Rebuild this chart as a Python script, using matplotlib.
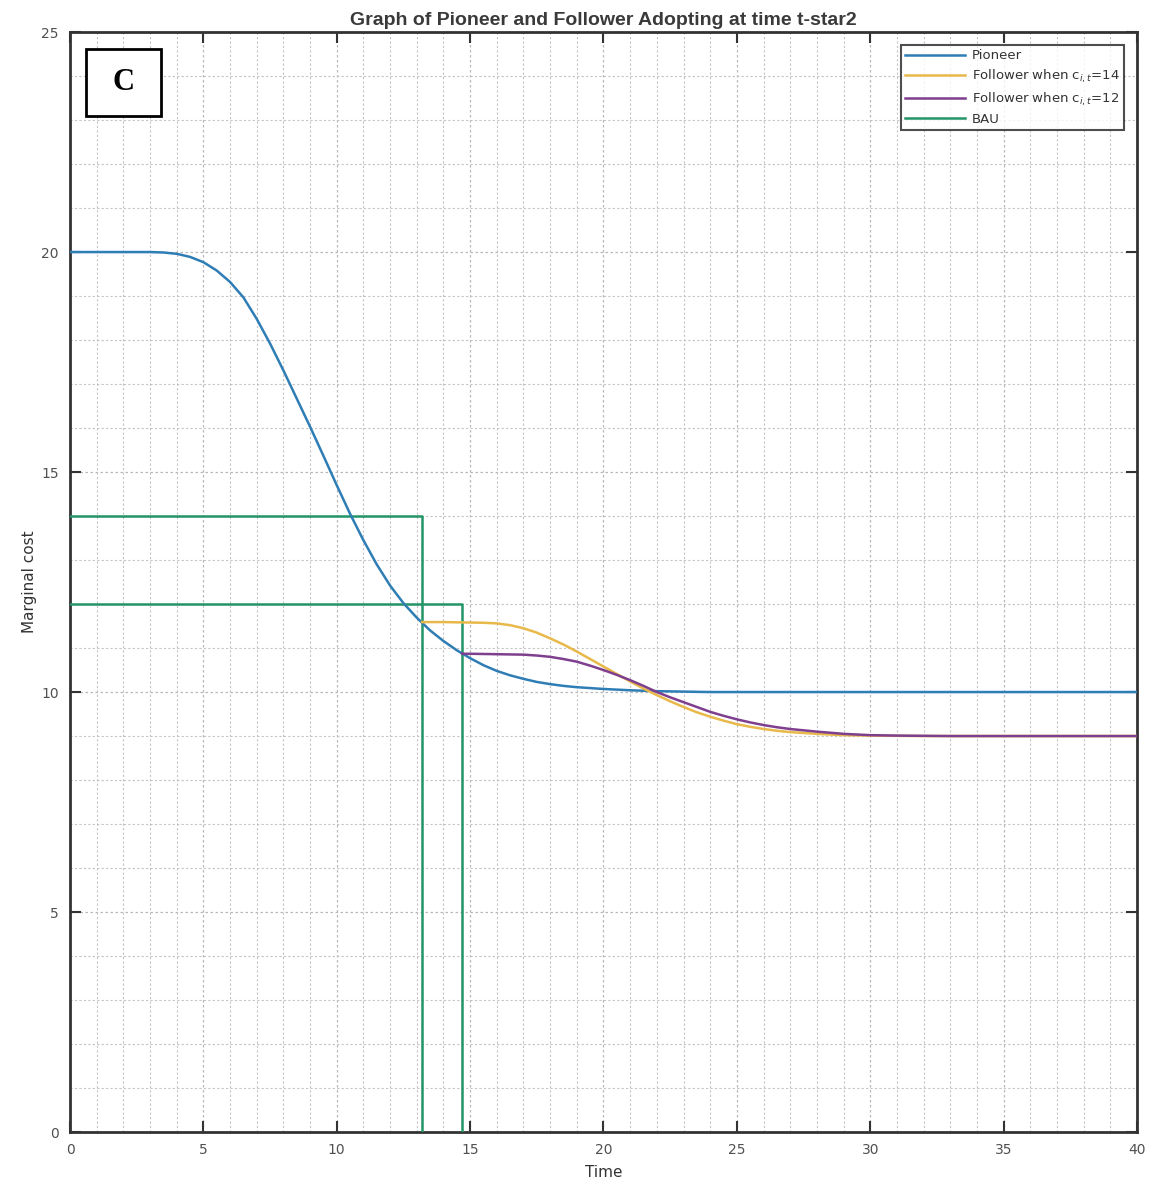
import matplotlib
matplotlib.use("Agg")
import matplotlib.pyplot as plt
from matplotlib.patches import Rectangle
from matplotlib.ticker import MultipleLocator

# ---- data ----
pioneer_t = [0, 1, 2, 3, 3.5, 4, 4.5, 5, 5.5, 6, 6.5, 7, 7.5, 8, 8.5, 9, 9.5, 10, 10.5,
             11, 11.5, 12, 12.5, 13, 13.5, 14, 14.5, 15, 15.5, 16, 16.5, 17, 17.5, 18,
             18.5, 19, 19.5, 20, 21, 22, 23, 24, 26, 30, 35, 40]
pioneer_y = [20, 20, 20, 20, 19.99, 19.96, 19.89, 19.77, 19.58, 19.32, 18.97, 18.48, 17.92,
             17.31, 16.67, 16.03, 15.37, 14.7, 14.05, 13.45, 12.9, 12.42, 12.02, 11.69,
             11.4, 11.16, 10.95, 10.77, 10.61, 10.48, 10.38, 10.3, 10.23, 10.18, 10.14,
             10.11, 10.09, 10.07, 10.04, 10.02, 10.01, 10.0, 10.0, 10.0, 10.0, 10.0]

f14_t = [13.2, 14, 15, 15.5, 16, 16.5, 17, 17.5, 18, 18.5, 19, 19.5, 20, 20.5, 21, 21.5,
         22, 22.5, 23, 23.5, 24, 24.5, 25, 25.5, 26, 26.5, 27, 28, 29, 30, 32, 35, 40]
f14_y = [11.59, 11.59, 11.58, 11.575, 11.56, 11.52, 11.45, 11.35, 11.22, 11.08, 10.92,
         10.75, 10.58, 10.41, 10.24, 10.08, 9.93, 9.79, 9.66, 9.54, 9.44, 9.35, 9.27,
         9.21, 9.16, 9.12, 9.09, 9.05, 9.02, 9.01, 9.0, 9.0, 9.0]

f12_t = [14.7, 15, 16, 17, 17.5, 18, 18.5, 19, 19.5, 20, 20.5, 21, 21.5, 22, 22.5, 23,
         23.5, 24, 24.5, 25, 25.5, 26, 26.5, 27, 27.5, 28, 29, 30, 31, 33, 36, 40]
f12_y = [10.87, 10.87, 10.86, 10.85, 10.83, 10.8, 10.75, 10.69, 10.6, 10.5, 10.39, 10.27,
         10.14, 10.0, 9.88, 9.77, 9.66, 9.55, 9.46, 9.38, 9.31, 9.25, 9.2, 9.16, 9.13,
         9.1, 9.05, 9.02, 9.01, 9.0, 9.0, 9.0]

bau14_t = [0, 13.2, 13.2]
bau14_y = [14, 14, 0]
bau12_t = [0, 14.7, 14.7]
bau12_y = [12, 12, 0]

labels = ["Pioneer", r"Follower when c$_{i,t}$=14", r"Follower when c$_{i,t}$=12", "BAU"]
title = "Graph of Pioneer and Follower Adopting at time t-star2"
xticks = [0, 5, 10, 15, 20, 25, 30, 35, 40]
yticks = [0, 5, 10, 15, 20, 25]

# ---- styling ----
c_blue = "#2f7db5"
c_yellow = "#e8b94a"
c_purple = "#7e3f8e"
c_green = "#239466"
txt_gray = "#505050"

fig = plt.figure(figsize=(11.59, 11.87), dpi=100)
ax = fig.add_axes([0.0604, 0.0463, 0.9206, 0.9267])

l1, = ax.plot(pioneer_t, pioneer_y, color=c_blue, lw=1.8, zorder=4)
l2, = ax.plot(f14_t, f14_y, color=c_yellow, lw=1.8, zorder=4)
l3, = ax.plot(f12_t, f12_y, color=c_purple, lw=1.8, zorder=5)
l4, = ax.plot(bau14_t, bau14_y, color=c_green, lw=1.8, zorder=3)
ax.plot(bau12_t, bau12_y, color=c_green, lw=1.8, zorder=3)

ax.set_xlim(0, 40)
ax.set_ylim(0, 25)
ax.set_xticks(xticks)
ax.set_yticks(yticks)
ax.xaxis.set_minor_locator(MultipleLocator(1))
ax.yaxis.set_minor_locator(MultipleLocator(1))
ax.grid(which="major", color="#b8b8b8", linestyle=(0, (2, 2)), lw=0.9)
ax.grid(which="minor", color="#c4c4c4", linestyle=(0, (2, 2)), lw=0.8)
ax.set_axisbelow(True)

ax.tick_params(which="major", direction="in", length=8, width=1.5, top=True, right=True,
               colors="#333333", labelcolor=txt_gray, labelsize=10, pad=8)
ax.tick_params(which="minor", length=0)
for s in ax.spines.values():
    s.set_linewidth(2.0)
    s.set_color("#333333")

ax.set_title(title, fontsize=14, fontweight="bold", color="#3a3a3a", pad=5,
             family=["Liberation Sans", "DejaVu Sans"])
ax.set_xlabel("Time", fontsize=11, color="#333333", labelpad=6)
ax.set_ylabel("Marginal cost", fontsize=11, color="#333333", labelpad=3)

leg = ax.legend([l1, l2, l3, l4], labels, loc="upper right", fontsize=9.5,
                handlelength=4.6, borderaxespad=1.0, frameon=True, fancybox=False,
                labelspacing=0.4, handletextpad=0.5, borderpad=0.3)
leg.get_frame().set_edgecolor("#222222")
leg.get_frame().set_linewidth(1.5)
for t in leg.get_texts():
    t.set_color("#333333")

# "C" panel label
ax.add_patch(Rectangle((0.015, 0.9236), 0.0703, 0.0609, transform=ax.transAxes,
                       facecolor="white", edgecolor="black", lw=2, zorder=10))
ax.text(0.0502, 0.954, "C", transform=ax.transAxes, ha="center", va="center",
        fontsize=22, fontweight="bold", family=["Liberation Serif", "DejaVu Serif"], zorder=11)

fig.savefig("out.png", dpi=100)
